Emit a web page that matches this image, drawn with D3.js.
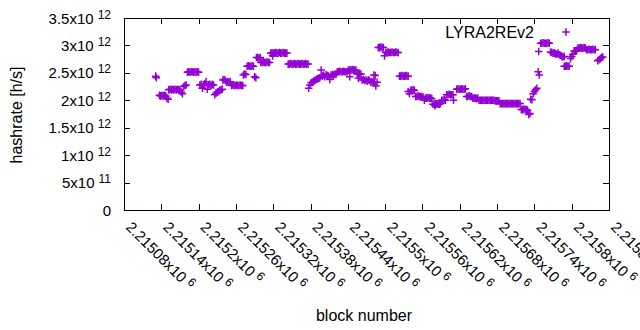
<!DOCTYPE html>
<html>
<head>
<meta charset="utf-8">
<script src="https://cdn.jsdelivr.net/npm/d3@7"></script>
<style>
body { margin: 0; background: #fff; }
text { font-family: "Liberation Sans", Arial, sans-serif; fill: #000; }
</style>
</head>
<body>
<svg width="640" height="330"></svg>
<script>
// block numbers are stored as offsets from blockBase, hashrate in units of 1e12 h/s
const blockBase = 2215000;
const hashratePoints = [
  [131,2.44],[132,2.41],
  [137,2.09],[139,2.08],[141,2.09],[143,2.08],[145,2.09],[147,2.08],[149,2.04],[151,2.02],
  [152,2.19],[154,2.2],[156,2.19],[158,2.2],[160,2.19],[162,2.2],[164,2.19],[166,2.2],[168,2.19],[170,2.19],[172,2.15],[174,2.12],
  [176,2.25],[178,2.27],[180,2.28],
  [182,2.51],[184,2.52],[186,2.51],[188,2.52],[190,2.52],[192,2.51],[194,2.52],[196,2.51],[198,2.52],[200,2.51],
  [202,2.28],[204,2.29],[206,2.22],[208,2.27],[210,2.3],[212,2.34],[214,2.2],[216,2.28],[218,2.29],[220,2.27],[222,2.29],[224,2.28],
  [226,2.1],[228,2.13],[230,2.15],[232,2.16],[234,2.18],[236,2.19],[238,2.2],
  [239,2.37],[241,2.38],[243,2.36],
  [245,2.33],[247,2.34],[249,2.33],[251,2.34],
  [253,2.27],[255,2.28],[257,2.27],[259,2.27],[261,2.28],[263,2.27],[265,2.27],[267,2.28],[269,2.27],[271,2.27],
  [272,2.46],[274,2.48],[276,2.47],
  [278,2.62],[280,2.63],[282,2.62],[284,2.62],[286,2.63],[288,2.62],[290,2.43],[292,2.41],
  [293,2.78],[295,2.78],[297,2.77],[299,2.78],
  [300,2.69],[302,2.69],[304,2.7],[306,2.69],[308,2.69],[310,2.7],[312,2.69],[314,2.69],
  [316,2.86],[318,2.86],[319,2.81],[320,2.86],[322,2.86],[324,2.87],[326,2.86],[328,2.86],[330,2.87],[332,2.86],[334,2.86],[336,2.87],[338,2.86],[340,2.86],[342,2.86],
  [344,2.66],[346,2.66],[348,2.67],[350,2.66],[352,2.66],[354,2.67],[356,2.66],[358,2.66],[360,2.67],[362,2.66],[364,2.66],[366,2.67],[368,2.66],[370,2.66],[372,2.67],[374,2.66],[376,2.66],
  [377,2.22],[379,2.28],
  [381,2.32],[383,2.33],[385,2.35],[387,2.36],[389,2.38],[391,2.39],[393,2.4],[395,2.41],
  [397,2.55],
  [399,2.44],[401,2.46],[403,2.43],[405,2.47],[407,2.45],[409,2.44],[411,2.38],[413,2.46],[415,2.47],[417,2.45],[419,2.48],[421,2.47],
  [423,2.52],[425,2.52],[427,2.53],[429,2.52],[431,2.52],[433,2.53],[435,2.52],[437,2.52],[439,2.52],
  [441,2.55],[443,2.43],[443,2.55],[445,2.55],[447,2.56],[449,2.55],[451,2.55],[453,2.55],
  [455,2.48],[457,2.4],[457,2.48],[459,2.48],[461,2.48],
  [463,2.37],[465,2.38],[467,2.36],[469,2.37],[471,2.35],[473,2.37],[475,2.36],
  [477,2.33],[479,2.34],[481,2.33],[482,2.46],[483,2.33],[484,2.45],[485,2.26],[487,2.33],
  [489,2.96],[491,2.96],[493,2.97],[495,2.96],[497,2.96],[499,2.81],
  [501,2.87],[503,2.87],[505,2.88],[507,2.87],[509,2.87],[511,2.88],[513,2.87],[515,2.87],[517,2.88],[519,2.87],[521,2.87],
  [523,2.44],[525,2.44],[527,2.45],[529,2.44],[531,2.44],[533,2.45],[535,2.44],[537,2.44],
  [537,2.16],[539,2.12],[541,2.18],[543,2.18],[545,2.19],[547,2.18],
  [549,2.07],[551,2.07],[553,2.08],[555,2.07],[557,2.07],[559,2.07],[561,2.06],[563,2.0],
  [565,2.04],[567,2.04],[569,2.05],[571,2.04],[573,2.04],[575,2.03],
  [577,1.93],[579,1.93],[580,1.9],[581,1.93],[583,1.94],[585,1.93],[587,1.93],[589,1.94],
  [591,2.0],[593,2.0],[595,2.01],[597,2.0],
  [599,2.1],[601,2.1],[603,2.11],[605,2.1],[607,2.1],[609,2.1],[610,2.0],
  [615,2.2],[617,2.21],[619,2.2],[621,2.2],[623,2.21],[625,2.2],[627,2.2],[629,2.21],
  [631,2.07],[633,2.07],[635,2.08],[637,2.07],[639,2.07],
  [641,2.04],[643,2.04],[645,2.04],[647,2.03],[649,2.04],
  [651,2.0],[653,2.0],[655,2.0],[657,2.0],[659,2.0],[661,2.0],[663,2.0],[665,2.0],[667,2.0],[669,2.0],[671,2.0],[673,2.0],[675,2.0],[677,1.99],[679,1.99],[681,1.99],[683,1.99],
  [685,1.94],[687,1.94],[689,1.94],[691,1.94],[693,1.94],[695,1.94],[697,1.94],[699,1.94],[701,1.94],[703,1.94],[705,1.94],[707,1.94],[709,1.94],[711,1.94],[713,1.94],[715,1.94],[717,1.94],
  [719,1.83],[721,1.83],[723,1.84],[725,1.83],[727,1.83],[729,1.82],
  [731,1.74],[733,1.76],
  [734,2.02],[736,2.01],
  [738,2.12],[740,2.16],[742,2.19],[744,2.22],
  [746,2.52],[747,2.89],[748,2.46],
  [750,3.04],[752,3.04],[754,3.05],[756,3.04],[758,3.04],[760,3.04],[762,3.05],[764,3.04],
  [766,2.88],[768,2.87],[770,2.86],[772,2.86],[774,2.85],[776,2.84],[778,2.86],[780,2.83],
  [782,2.82],[784,2.8],[786,2.79],[788,2.8],
  [788,2.62],[790,2.62],[792,2.63],[794,2.62],[796,2.62],
  [798,2.76],[800,2.8],[802,2.84],
  [804,2.9],[806,2.9],[808,2.91],
  [810,2.95],[812,2.95],[814,2.96],[816,2.95],[818,2.95],[820,2.96],[822,2.95],
  [824,2.92],[826,2.92],[828,2.93],[830,2.92],[832,2.92],[834,2.93],[836,2.92],[838,2.92],
  [842,2.72],[844,2.74],[846,2.76],[848,2.78],[850,2.79]
];

const yTicks = [0, 0.5e12, 1e12, 1.5e12, 2e12, 2.5e12, 3e12, 3.5e12];
const yTickMant = ["0", "5", "1", "1.5", "2", "2.5", "3", "3.5"];
const yTickExp = ["", "11", "12", "12", "12", "12", "12", "12"];

const xTicks = [2215080, 2215140, 2215200, 2215260, 2215320, 2215380, 2215440,
                2215500, 2215560, 2215620, 2215680, 2215740, 2215800, 2215860];
const xTickMant = ["2.21508", "2.21514", "2.2152", "2.21526", "2.21532", "2.21538", "2.21544",
                   "2.2155", "2.21556", "2.21562", "2.21568", "2.21574", "2.2158", "2.21586"];
const xTickExp = "6";

const seriesName = "LYRA2REv2";
const color = "#9400d3";

const svg = d3.select("svg");
const width = +svg.attr("width");
const height = +svg.attr("height");
const margin = { top: 18, right: 31, bottom: 120, left: 124 };
const innerWidth = width - margin.left - margin.right;
const innerHeight = height - margin.top - margin.bottom;

const x = d3.scaleLinear().domain([2215080, 2215860]).range([margin.left, margin.left + innerWidth]);
const y = d3.scaleLinear().domain([0, 3.5e12]).range([margin.top + innerHeight, margin.top]);

const fontSize = 15;
const supSize = 12;

// ticks on all four sides, pointing inward
const tickLen = 6;
const tickG = svg.append("g").attr("shape-rendering", "crispEdges");
tickG.append("g").attr("transform", `translate(${margin.left},0)`)
  .call(d3.axisLeft(y).tickValues(yTicks).tickSize(-tickLen).tickFormat(""));
tickG.append("g").attr("transform", `translate(${margin.left + innerWidth},0)`)
  .call(d3.axisRight(y).tickValues(yTicks).tickSize(-tickLen).tickFormat(""));
tickG.append("g").attr("transform", `translate(0,${margin.top + innerHeight})`)
  .call(d3.axisBottom(x).tickValues(xTicks).tickSize(-tickLen).tickFormat(""));
tickG.append("g").attr("transform", `translate(0,${margin.top})`)
  .call(d3.axisTop(x).tickValues(xTicks).tickSize(-tickLen).tickFormat(""));
tickG.selectAll(".domain").remove();
tickG.selectAll(".tick line").attr("stroke", "#000");

// border
svg.append("rect")
  .attr("x", margin.left + 0.5).attr("y", margin.top + 0.5)
  .attr("width", innerWidth).attr("height", innerHeight)
  .attr("fill", "none").attr("stroke", "#000")
  .attr("shape-rendering", "crispEdges");

// y tick labels
const yLab = svg.append("g").selectAll("text").data(yTicks).join("text")
  .attr("text-anchor", "end")
  .attr("x", 111)
  .attr("y", d => y(d) + 5.5)
  .style("font-size", fontSize + "px");
yLab.each(function(d, i) {
  const t = d3.select(this);
  if (yTickExp[i] === "") { t.text(yTickMant[i]); return; }
  t.append("tspan").text(yTickMant[i] + "x10");
  t.append("tspan").attr("dx", 4).attr("dy", -5)
    .style("font-size", supSize + "px").text(yTickExp[i]);
});

// x tick labels, rotated
const xLab = svg.append("g").selectAll("text").data(xTicks).join("text")
  .attr("transform", d => `translate(${x(d) + 1},228) rotate(45)`)
  .style("font-size", fontSize + "px");
xLab.each(function(d, i) {
  const t = d3.select(this);
  t.append("tspan").text(xTickMant[i] + "x10");
  t.append("tspan").attr("dx", 4).attr("dy", -5)
    .style("font-size", supSize + "px").text(xTickExp);
});

// axis titles
svg.append("text")
  .attr("x", 364).attr("y", 321)
  .attr("text-anchor", "middle")
  .style("font-size", "16px")
  .text("block number");
svg.append("text")
  .attr("transform", `translate(22,115) rotate(-90)`)
  .attr("text-anchor", "middle")
  .style("font-size", "16px")
  .text("hashrate [h/s]");

// plus markers
const plus = (g, cx, cy) => {
  const s = 3.8;
  g.append("path")
    .attr("d", `M${cx - s},${cy}H${cx + s}M${cx},${cy - s}V${cy + s}`)
    .attr("stroke", color).attr("stroke-width", 1.5).attr("fill", "none");
};

const pts = svg.append("g");
hashratePoints.forEach(([b, v]) => {
  plus(pts, x(blockBase + b), y(v * 1e12));
});

// legend
svg.append("text")
  .attr("x", 534).attr("y", 37.5)
  .attr("text-anchor", "end")
  .style("font-size", "16px")
  .text(seriesName);
plus(svg.append("g"), 566, 32);
</script>
</body>
</html>
